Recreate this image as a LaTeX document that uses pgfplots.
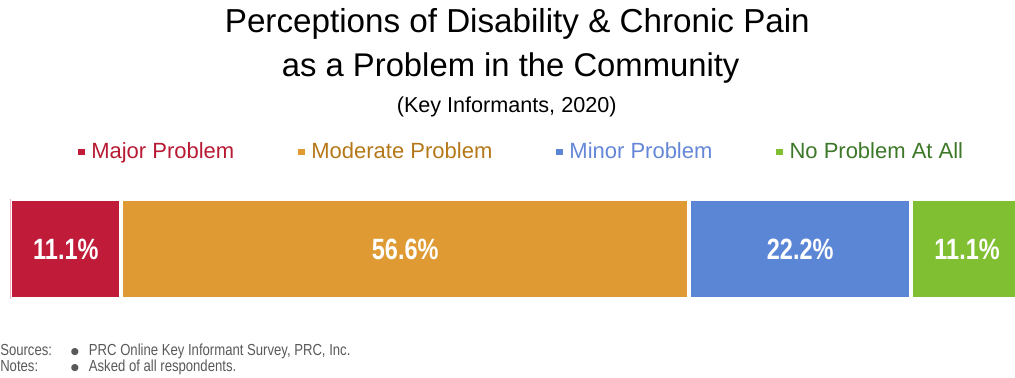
\documentclass[border=0pt]{standalone}
\usepackage{fontspec}
\setmainfont{Liberation Sans}
\newfontfamily\narrowfont[FakeStretch=0.8]{Liberation Sans}
\newfontfamily\notefont[FakeStretch=0.82]{Liberation Sans}
\newfontfamily\symfont{DejaVu Sans}
\usepackage{pgfplots}
\pgfplotsset{compat=1.18}
\definecolor{cmajor}{HTML}{C01C3A}
\definecolor{cmoderate}{HTML}{DF9A33}
\definecolor{cminor}{HTML}{5B86D6}
\definecolor{cnone}{HTML}{80BE32}
\definecolor{tmajor}{HTML}{B81A33}
\definecolor{tmoderate}{HTML}{B47819}
\definecolor{tminor}{HTML}{6487D7}
\definecolor{tnone}{HTML}{3C7828}
\definecolor{pinkline}{HTML}{F0B4BE}
\definecolor{notegray}{HTML}{595959}
\begin{document}
\begin{tikzpicture}
\path[use as bounding box] (0,0) rectangle (761.25pt,283.5pt);
% titles
\node[anchor=base] at (388pt,258.75pt) {\fontsize{24.9}{28}\selectfont Perceptions of Disability \& Chronic Pain};
\node[anchor=base] at (383pt,225.75pt) {\fontsize{24.6}{28}\selectfont as a Problem in the Community};
\node[anchor=base] at (380pt,198.75pt) {\fontsize{16.2}{19}\selectfont (Key Informants, 2020)};
% bars
\begin{axis}[
  at={(7.65pt,59.25pt)}, anchor=south west,
  scale only axis, width=759.4pt, height=75pt,
  xmin=0, xmax=101, ymin=-0.5, ymax=0.5,
  xbar stacked, bar width=75pt,
  hide x axis,
  axis y line*=left,
  y axis line style={draw=pinkline, line width=0.75pt, -},
  ytick=\empty,
  axis on top,
  legend columns=4,
  legend style={draw=none, fill=none, at={(0.5055,1.47)}, anchor=center,
    font=\fontsize{16.5}{19}\selectfont,
    /tikz/every odd column/.append style={column sep=3pt},
    /tikz/every even column/.append style={column sep=46pt}},
  legend image code/.code={\fill[#1,draw=none] (0pt,-2.4pt) rectangle (4.8pt,2.4pt);},
]
\addplot[fill=cmajor, draw=white, line width=3pt] coordinates {(11.1,0)};
\addlegendentry{\textcolor{tmajor}{Major Problem}}
\addplot[fill=cmoderate, draw=white, line width=3pt] coordinates {(56.6,0)};
\addlegendentry{\textcolor{tmoderate}{Moderate Problem}}
\addplot[fill=cminor, draw=white, line width=3pt] coordinates {(22.2,0)};
\addlegendentry{\textcolor{tminor}{Minor Problem}}
\addplot[fill=cnone, draw=white, line width=3pt] coordinates {(11.1,0)};
\addlegendentry{\textcolor{tnone}{No Problem At All}}
\end{axis}
% value labels
\begin{axis}[
  at={(7.65pt,59.25pt)}, anchor=south west,
  scale only axis, width=759.4pt, height=75pt,
  xmin=0, xmax=101, ymin=-0.5, ymax=0.5,
  hide axis, clip=false,
]
\addplot[draw=none, mark=none, nodes near coords, point meta=explicit symbolic,
  nodes near coords style={anchor=center, text=white, font={\narrowfont\bfseries\fontsize{22}{26}\selectfont}}]
  coordinates {(5.55,0)[11.1\%] (39.4,0)[56.6\%] (78.8,0)[22.2\%] (95.45,0)[11.1\%]};
\end{axis}
% notes
\tikzset{note/.style={anchor=base west, inner sep=0pt, text=notegray, font={\notefont\fontsize{12}{14}\selectfont}},
  notebullet/.style={anchor=base west, inner sep=0pt, text=notegray, font={\symfont\fontsize{7}{8}\selectfont}}}
\node[note] at (0pt,16.5pt) {Sources:};
\node[notebullet] at (53pt,17.4pt) {●};
\node[note] at (66.5pt,16.5pt) {PRC Online Key Informant Survey, PRC, Inc.};
\node[note] at (0pt,4.5pt) {Notes:};
\node[notebullet] at (53pt,5.4pt) {●};
\node[note] at (66.5pt,4.5pt) {Asked of all respondents.};
\end{tikzpicture}
\end{document}
